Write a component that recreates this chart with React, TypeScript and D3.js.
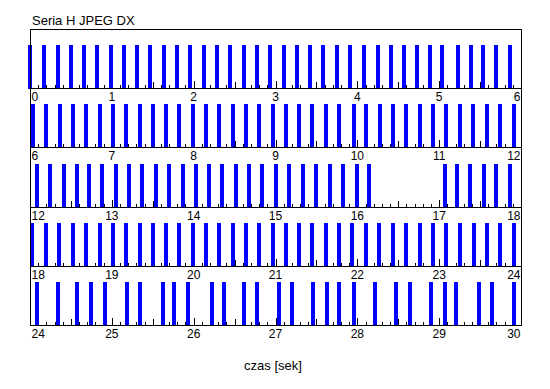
import React from "react";
import * as d3 from "d3";

const title = "Seria H JPEG DX";
const xLabel = "czas [sek]";
const stripSeconds = 6;
const stripCount = 5;

// Frame arrival times (seconds)
const frameTimes: number[] = [
  // 0–6
  0.0, 0.17, 0.34, 0.5, 0.66, 0.82, 0.99, 1.15, 1.31, 1.47, 1.64, 1.8, 1.96,
  2.13, 2.28, 2.44, 2.61, 2.77, 2.93, 3.1, 3.26, 3.42, 3.58, 3.75, 3.91, 4.08,
  4.25, 4.41, 4.57, 4.73, 4.89, 5.04, 5.23, 5.39, 5.53, 5.69, 5.87,
  // 6–12
  6.04, 6.2, 6.37, 6.52, 6.68, 6.85, 7.01, 7.17, 7.34, 7.5, 7.66, 7.82, 7.99,
  8.15, 8.31, 8.48, 8.64, 8.8, 8.97, 9.13, 9.29, 9.45, 9.62, 9.78, 9.96, 10.11,
  10.28, 10.44, 10.59, 10.77, 10.92, 11.08, 11.25, 11.41, 11.58, 11.74, 11.91,
  // 12–18
  12.08, 12.24, 12.41, 12.57, 12.72, 12.88, 13.05, 13.21, 13.37, 13.54, 13.7,
  13.87, 14.03, 14.19, 14.35, 14.52, 14.68, 14.84, 15.01, 15.17, 15.33, 15.5,
  15.66, 15.82, 15.99, 16.14, 17.07, 17.22, 17.38, 17.55, 17.7, 17.87,
  // 18–24
  18.03, 18.2, 18.36, 18.52, 18.68, 18.85, 19.01, 19.17, 19.34, 19.5, 19.66,
  19.82, 19.99, 20.15, 20.31, 20.48, 20.64, 20.8, 20.97, 21.13, 21.29, 21.45,
  21.62, 21.78, 21.94, 22.11, 22.27, 22.43, 22.59, 22.77, 22.92, 23.08, 23.25,
  23.42, 23.58, 23.74, 23.91,
  // 24–30
  24.08, 24.34, 24.58, 24.74, 24.92, 25.18, 25.34, 25.62, 25.76, 25.93, 26.22,
  26.37, 26.61, 26.77, 27.04, 27.2, 27.46, 27.63, 27.77, 27.96, 28.22, 28.47,
  28.64, 28.9, 29.07, 29.21, 29.49, 29.64, 29.91,
];

const W = 550;
const H = 389;
const left = 30;
const right = 521;
const top = 29;
const firstBaseline = 88;
const stripStep = 59.25;
const barHeight = 43;
const barWidth = 4;
const font = "'Liberation Sans', Arial, sans-serif";

export default function App() {
  const strips = d3.range(stripCount);
  const lastBaseline = Math.round(firstBaseline + stripStep * (stripCount - 1));
  return (
    <svg
      width={W}
      height={H}
      style={{ position: "absolute", left: 0, top: 0, background: "#fff" }}
      fontFamily={font}
    >
      <rect x={0} y={0} width={W} height={H} fill="#fff" />
      <text x={32} y={25} fontSize={13} fill="#000">
        {title}
      </text>
      {strips.map((s) => {
        const t0 = s * stripSeconds;
        const t1 = t0 + stripSeconds;
        const base = Math.round(firstBaseline + stripStep * s);
        const x = d3.scaleLinear().domain([t0, t1]).range([left, right]);
        const y = d3.scaleLinear().domain([0, 1]).range([base + 1, base - barHeight]);
        const minor = d3.range(0, stripSeconds * 10 + 1).map((k) => t0 + k / 10);
        const labels = d3.range(t0, t1 + 1);
        const bars = frameTimes.filter((t) => t >= t0 && t < t1);
        return (
          <g key={s}>
            {minor.map((t, k) => {
              const len = k % 10 === 0 ? 7 : k % 5 === 0 ? 6 : 3;
              const px = Math.round(x(t)) + 0.5;
              return (
                <line
                  key={k}
                  x1={px}
                  x2={px}
                  y1={base}
                  y2={base - len}
                  stroke="#000"
                  strokeWidth={1}
                />
              );
            })}
            {bars.map((t, i) => (
              <rect
                key={i}
                x={Math.round(x(t) - barWidth / 2)}
                y={y(1)}
                width={barWidth}
                height={y(0) - y(1)}
                fill="#0000ff"
              />
            ))}
            <line
              x1={left}
              x2={right + 1}
              y1={base + 0.5}
              y2={base + 0.5}
              stroke="#000"
              strokeWidth={1}
            />
            {labels.map((t, i) => {
              const anchor = i === 0 ? "start" : i === labels.length - 1 ? "end" : "middle";
              const lx = i === 0 ? x(t) + 1.5 : i === labels.length - 1 ? x(t) - 0.5 : x(t);
              return (
                <text
                  key={t}
                  x={lx}
                  y={base + 12.5}
                  fontSize={12}
                  textAnchor={anchor}
                  fill="#000"
                >
                  {t}
                </text>
              );
            })}
          </g>
        );
      })}
      <line x1={left} x2={right + 1} y1={top + 0.5} y2={top + 0.5} stroke="#000" />
      <line x1={left + 0.5} x2={left + 0.5} y1={top} y2={lastBaseline + 1} stroke="#000" />
      <line x1={right + 0.5} x2={right + 0.5} y1={top} y2={lastBaseline + 1} stroke="#000" />
      <text x={273} y={370} fontSize={13} textAnchor="middle" fill="#000">
        {xLabel}
      </text>
    </svg>
  );
}
